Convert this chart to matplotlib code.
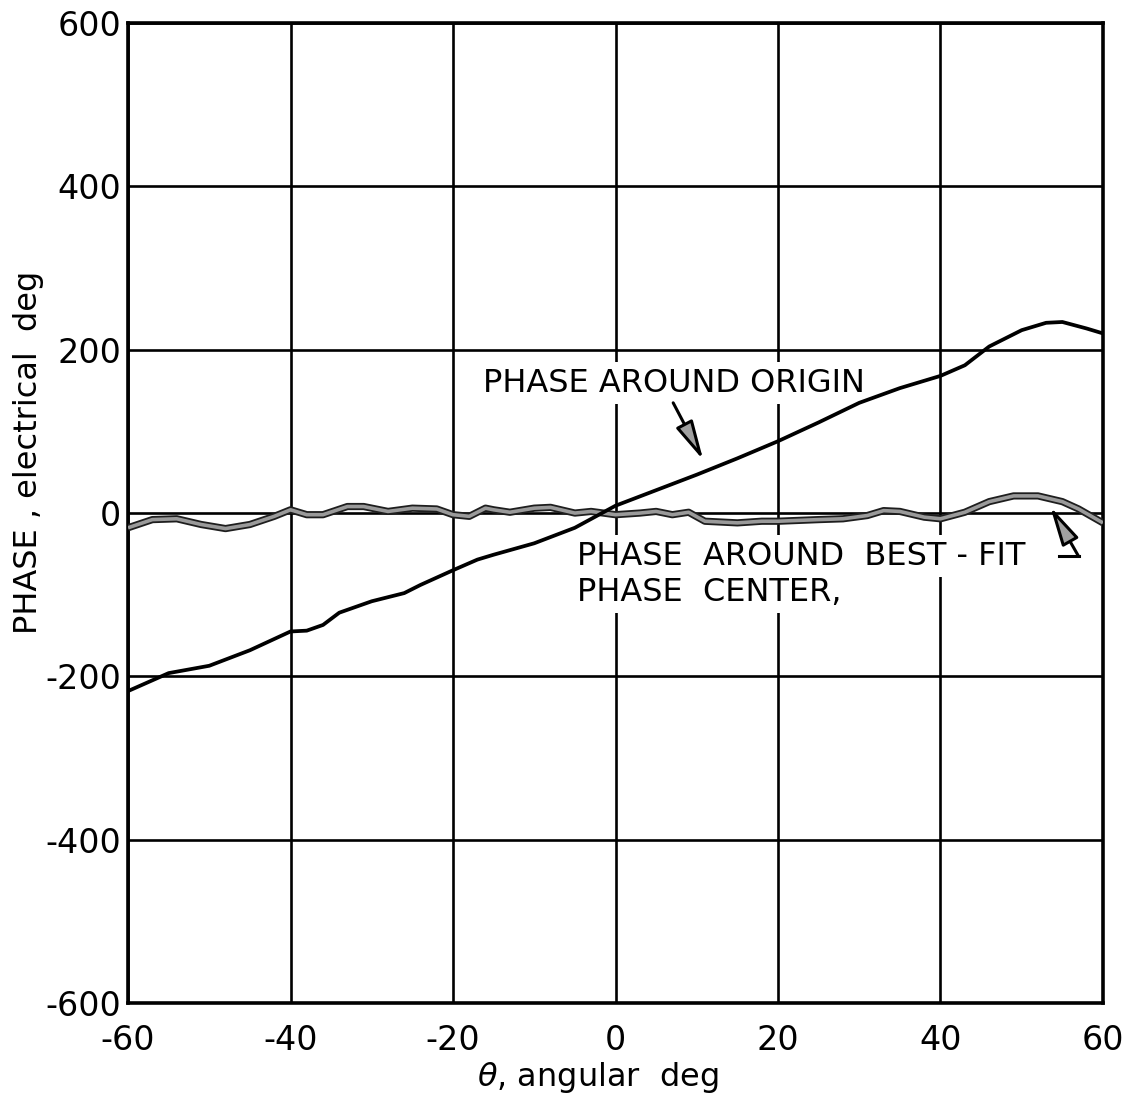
"""
Phase vs angle: around origin and around best-fit phase center
"""
import numpy as np
import matplotlib.pyplot as plt

# phase around origin
theta_origin = [-60, -55, -50, -45, -40, -38, -36, -34, -30, -26, -24, -20, -17, -15,
                -10, -5, 0, 5, 10, 15, 20, 25, 30, 35, 40, 43, 46, 50, 53, 55, 58, 60]
phase_origin = [-218, -196, -187, -168, -145, -144, -137, -122, -108, -98, -88, -70, -57, -51,
                -37, -18, 9, 28, 47, 67, 88, 111, 135, 153, 168, 181, 204, 224, 233, 234, 226, 220]

# phase around best-fit phase center
theta_fit = [-60, -57, -54, -51, -48, -45, -42, -40, -38, -36, -33, -31, -28, -25, -22, -20,
             -18, -16, -15, -13, -10, -8, -5, -3, 0, 3, 5, 7, 9, 11, 15, 18, 20, 25, 28, 31,
             33, 35, 38, 40, 43, 46, 49, 52, 55, 57, 60]
phase_fit = [-18, -8, -7, -14, -19, -14, -4, 4, -2, -2, 8, 8, 2, 6, 5, -2,
             -4, 6, 4, 1, 6, 7, 0, 2, -2, 0, 2, -2, 1, -10, -12, -10, -10, -8, -7, -3,
             3, 2, -5, -7, 1, 14, 21, 21, 14, 5, -12]

x_ticks = [-60, -40, -20, 0, 20, 40, 60]
y_ticks = [-600, -400, -200, 0, 200, 400, 600]

fig = plt.figure(figsize=(11.33, 11.01), dpi=100)
ax = fig.add_axes([0.113, 0.089, 0.8605, 0.89])

ax.set_xlim(-60, 60)
ax.set_ylim(-600, 600)
ax.set_xticks(x_ticks)
ax.set_yticks(y_ticks)
ax.set_xticklabels([str(t) for t in x_ticks])
ax.set_yticklabels([str(t) for t in y_ticks])
ax.tick_params(length=0, labelsize=24)
ax.tick_params(axis='x', pad=15)
ax.tick_params(axis='y', pad=5)
ax.grid(True, color='black', linewidth=1.9, zorder=1)
for s in ax.spines.values():
    s.set_linewidth(2.6)

ax.plot(theta_origin, phase_origin, color='black', linewidth=2.7, zorder=4)
ax.plot(theta_fit, phase_fit, color='#1e1e1e', linewidth=5.2, zorder=3,
        solid_capstyle='butt')
ax.plot(theta_fit, phase_fit, color='#9a9a9a', linewidth=2.6, zorder=3,
        solid_capstyle='butt')

box = dict(facecolor='white', edgecolor='none', pad=4)
ax.text(-16.3, 159, 'PHASE AROUND ORIGIN', fontsize=23, ha='left', va='center',
        bbox=box, zorder=2)
ax.text(-4.8, -53, 'PHASE  AROUND  BEST - FIT', fontsize=23, ha='left', va='center',
        bbox=box, zorder=2)
ax.text(-4.8, -97, 'PHASE  CENTER,', fontsize=23, ha='left', va='center',
        bbox=box, zorder=2)

# arrows: gray head with black outline
arrow = dict(arrowstyle='-|>,head_length=1.2,head_width=0.28', mutation_scale=20,
             edgecolor='black', facecolor='#a0a0a0', linewidth=2.2,
             shrinkA=0, shrinkB=0)
ax.annotate('', xy=(10.8, 65), xytext=(7.1, 135), arrowprops=arrow, zorder=5)
ax.plot([54.6, 57.0], [-53, -53], color='black', linewidth=2.2, zorder=5)
ax.annotate('', xy=(53.5, 8), xytext=(57.0, -53), arrowprops=arrow, zorder=5)

fig.text(0.025, 0.589, 'PHASE , electrical  deg', rotation=90, fontsize=23,
         ha='center', va='center')
fig.text(0.528, 0.021, r'$\theta$, angular  deg', fontsize=23, ha='center', va='center')

fig.savefig('out.png', dpi=100)
